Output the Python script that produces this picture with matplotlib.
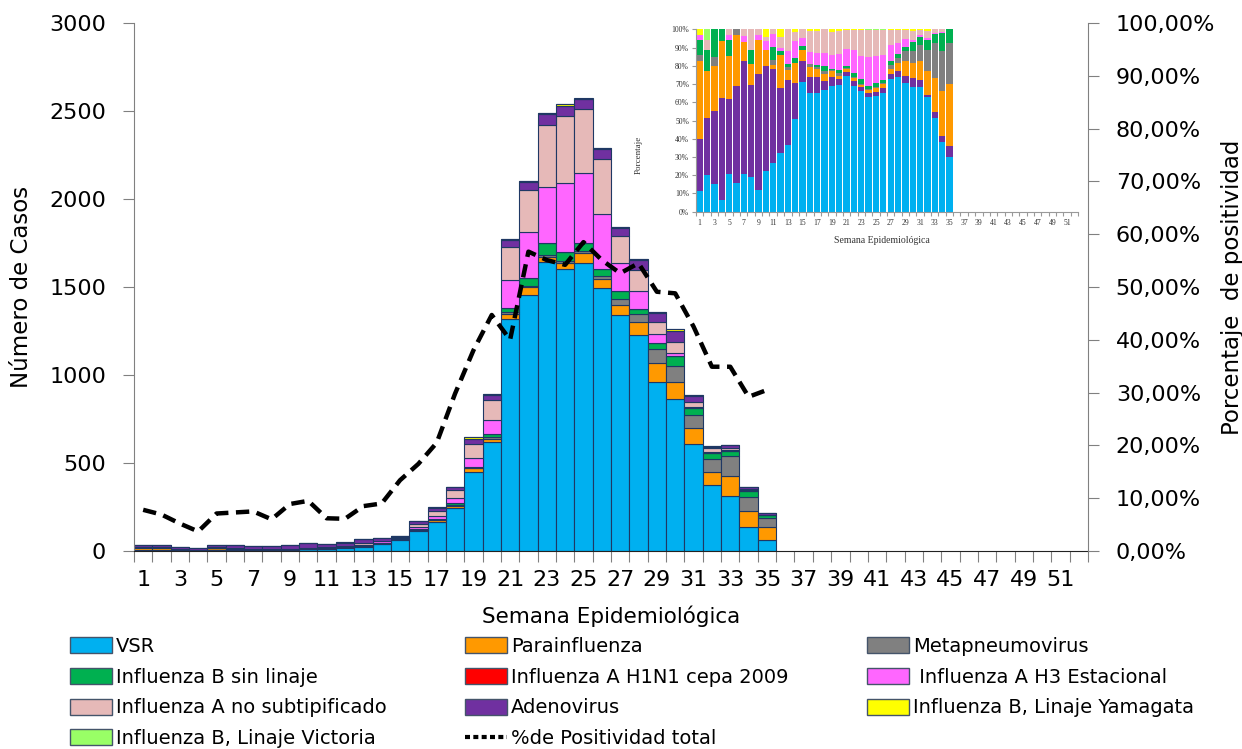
import matplotlib
matplotlib.use("Agg")
import matplotlib.pyplot as plt
import numpy as np
from matplotlib.patches import Patch
from matplotlib.lines import Line2D
from matplotlib.ticker import FuncFormatter

plt.rcParams["font.family"] = ["DejaVu Sans"]

# semanas epidemiologicas con datos (1..35), eje hasta la 52
weeks = list(range(1, 36))
n_weeks_axis = 52

vsr = [4, 7, 3, 1, 7, 5, 6, 5, 4, 10, 11, 16, 25, 38, 62, 111, 163, 243, 447, 621,
       1316, 1455, 1644, 1600, 1635, 1492, 1341, 1227, 958, 862, 606, 375, 310, 138, 65]
parainfluenza = [15, 9, 5, 5, 8, 9, 3, 3, 6, 4, 1, 9, 4, 8, 5, 9, 12, 14, 23, 15,
                 31, 43, 28, 38, 56, 53, 57, 72, 112, 100, 91, 76, 115, 90, 73]
metapneumo = [1, 0, 1, 0, 0, 1, 0, 0, 0, 0, 1, 0, 1, 0, 0, 3, 2, 6, 3, 12,
              13, 10, 10, 12, 15, 17, 34, 46, 76, 89, 76, 70, 115, 79, 48]
flu_b_sin_linaje = [3, 4, 3, 1, 3, 0, 0, 2, 0, 0, 3, 1, 1, 2, 2, 0, 3, 11, 5, 17,
                    19, 45, 66, 50, 46, 40, 45, 30, 34, 57, 38, 34, 30, 36, 16]
flu_a_h1n1 = [0] * 35
flu_a_h3 = [1, 0, 0, 0, 1, 0, 1, 0, 1, 2, 3, 1, 5, 7, 4, 11, 17, 25, 50, 79,
            161, 261, 318, 393, 394, 311, 158, 104, 53, 15, 9, 5, 3, 2, 0]
flu_a_no_subtip = [0, 2, 0, 0, 1, 0, 1, 3, 1, 1, 1, 3, 8, 4, 4, 19, 29, 48, 81, 114,
                   189, 237, 354, 380, 364, 313, 155, 118, 70, 66, 25, 23, 12, 5, 0]
adenovirus = [10, 11, 8, 9, 14, 17, 18, 13, 21, 26, 21, 18, 24, 15, 10, 15, 21, 18, 30, 28,
              38, 47, 62, 55, 56, 58, 47, 56, 51, 63, 36, 9, 18, 13, 13]
flu_b_yamagata = [1, 0, 0, 0, 0, 0, 0, 0, 0, 2, 0, 2, 0, 1, 0, 2, 3, 0, 9, 6,
                  6, 6, 6, 9, 3, 5, 6, 6, 6, 9, 5, 6, 0, 0, 0]
flu_b_victoria = [0, 2, 0, 0, 0, 0, 0, 0, 0, 0, 0, 0, 0, 0, 0, 0, 0, 0, 0, 0,
                  0, 0, 0, 3, 3, 3, 0, 0, 0, 0, 0, 0, 0, 0, 0]
positividad = [7.8, 6.9, 5.2, 3.7, 7.1, 7.3, 7.5, 6.0, 8.9, 9.5, 6.2, 6.1, 8.5, 9.0, 13.4,
               16.5, 20.5, 29.8, 38.0, 44.7, 40.0, 56.7, 55.1, 54.2, 58.5, 55.1, 52.6,
               54.5, 49.1, 48.8, 42.5, 34.9, 34.9, 29.2, 30.5]

series = {
    "VSR": (vsr, "#00B0F0"),
    "Parainfluenza": (parainfluenza, "#FF9900"),
    "Metapneumovirus": (metapneumo, "#808080"),
    "Influenza B sin linaje": (flu_b_sin_linaje, "#00B050"),
    "Influenza A H1N1 cepa 2009": (flu_a_h1n1, "#FF0000"),
    " Influenza A H3 Estacional": (flu_a_h3, "#FF66FF"),
    "Influenza A no subtipificado": (flu_a_no_subtip, "#E6B9B8"),
    "Adenovirus": (adenovirus, "#7030A0"),
    "Influenza B, Linaje Yamagata": (flu_b_yamagata, "#FFFF00"),
    "Influenza B, Linaje Victoria": (flu_b_victoria, "#99FF66"),
}
inset_order = ["VSR", "Adenovirus", "Parainfluenza", "Metapneumovirus",
               "Influenza B sin linaje", "Influenza A H1N1 cepa 2009",
               " Influenza A H3 Estacional", "Influenza A no subtipificado",
               "Influenza B, Linaje Yamagata", "Influenza B, Linaje Victoria"]

edge = "#1F3864"
W, H = 1242, 749
fig = plt.figure(figsize=(W / 100, H / 100), dpi=100)
ax = fig.add_axes([134 / W, 1 - 551 / H, 954 / W, 528 / H])

x = np.array(weeks)
bottom = np.zeros(len(weeks))
for name, (vals, color) in series.items():
    vals = np.array(vals, dtype=float)
    ax.bar(x, vals, width=1.0, bottom=bottom, color=color,
           edgecolor=edge, linewidth=0.8)
    bottom += vals

ax.set_xlim(0.5, n_weeks_axis + 0.5)
ax.set_ylim(0, 3000)
ax.set_yticks(range(0, 3001, 500))
ax.set_xticks(np.arange(0.5, n_weeks_axis + 1, 1.0))
ax.set_xticklabels([])
ax.set_xticks(range(1, n_weeks_axis + 1), minor=True)
ax.set_xticklabels([str(w) if w % 2 == 1 else "" for w in range(1, n_weeks_axis + 1)],
                   minor=True)
ax.tick_params(axis="x", which="major", length=8, color="#808080", direction="out")
ax.tick_params(axis="x", which="minor", length=0, pad=14, labelsize=16)
ax.tick_params(axis="y", length=8, color="#808080", pad=12, labelsize=16)
ax.spines["top"].set_visible(False)
ax.spines["right"].set_visible(False)
ax.spines["left"].set_color("#808080")
ax.spines["bottom"].set_color("#222222")
ax.set_xlabel("Semana Epidemiológica", fontsize=15.5, labelpad=11)
ax.set_ylabel("Número de Casos", fontsize=16.5, labelpad=12)

ax2 = ax.twinx()
ax2.plot(x, np.array(positividad) / 100, color="black", lw=3.2,
         linestyle=(0, (3, 1.7)))
ax2.set_ylim(0, 1)
ax2.set_yticks(np.arange(0, 1.01, 0.1))
ax2.yaxis.set_major_formatter(FuncFormatter(lambda v, p: f"{v * 100:.2f}%".replace(".", ",")))
ax2.tick_params(axis="y", length=8, color="#808080", pad=12, labelsize=16)
for s in ["top", "left", "bottom"]:
    ax2.spines[s].set_visible(False)
ax2.spines["right"].set_color("#808080")
ax2.set_ylabel("Porcentaje  de positividad", fontsize=16.5, labelpad=4)

# grafico insertado: porcentaje por agente
axi = fig.add_axes([696 / W, 1 - 211.7 / H, 382 / W, 182.4 / H])
totals = np.sum([np.array(series[n][0], dtype=float) for n in inset_order], axis=0)
bottom = np.zeros(len(weeks))
for name in inset_order:
    vals, color = series[name]
    pct = np.array(vals, dtype=float) / totals * 100
    axi.bar(x, pct, width=0.86, bottom=bottom, color=color, linewidth=0)
    bottom += pct
axi.set_xlim(0.5, n_weeks_axis + 0.5)
axi.set_ylim(0, 100)
axi.set_yticks(range(0, 101, 10))
axi.yaxis.set_major_formatter(FuncFormatter(lambda v, p: f"{v:.0f}%"))
axi.set_xticks(np.arange(0.5, n_weeks_axis + 1, 1.0))
axi.set_xticklabels([])
axi.set_xticks(range(1, n_weeks_axis + 1), minor=True)
axi.set_xticklabels([str(w) if w % 2 == 1 else "" for w in range(1, n_weeks_axis + 1)],
                    minor=True, family="Liberation Serif", fontsize=5.5, color="#333333")
axi.tick_params(axis="x", which="major", length=3, color="#999999")
axi.tick_params(axis="x", which="minor", length=0, pad=5)
axi.tick_params(axis="y", length=3, color="#999999", pad=2, labelsize=5.5,
                labelcolor="#333333")
for lab in axi.get_yticklabels():
    lab.set_family("Liberation Serif")
axi.spines["top"].set_visible(False)
axi.spines["right"].set_visible(False)
axi.spines["left"].set_color("#999999")
axi.spines["bottom"].set_color("#999999")
axi.set_xlabel("Semana Epidemiológica", family="Liberation Serif", fontsize=7,
               color="#333333")
axi.xaxis.set_label_coords(0.487, -0.133)
axi.set_ylabel("Porcentaje", family="Liberation Serif", fontsize=6.5, color="#333333")
axi.yaxis.set_label_coords(-0.14, 0.31)

# leyenda en 3 columnas, llenada por filas
names = list(series.keys())
handles = {n: Patch(facecolor=series[n][1], edgecolor="#44546A", linewidth=1) for n in names}
line_label = "%de Positividad total"
handles[line_label] = Line2D([], [], color="black", lw=3, linestyle=(0, (1.2, 0.8)))
order = [names[0], names[3], names[6], names[9],
         names[1], names[4], names[7], line_label,
         names[2], names[5], names[8]]
fig.legend([handles[n] for n in order], order, ncol=3, loc="upper left",
           bbox_to_anchor=(70 / W, 1 - 637 / H), frameon=False, fontsize=14,
           borderpad=0, borderaxespad=0, handlelength=2.15, handleheight=0.9,
           handletextpad=0.2, columnspacing=4.05, labelspacing=0.6)

fig.savefig("out.png", dpi=100)
